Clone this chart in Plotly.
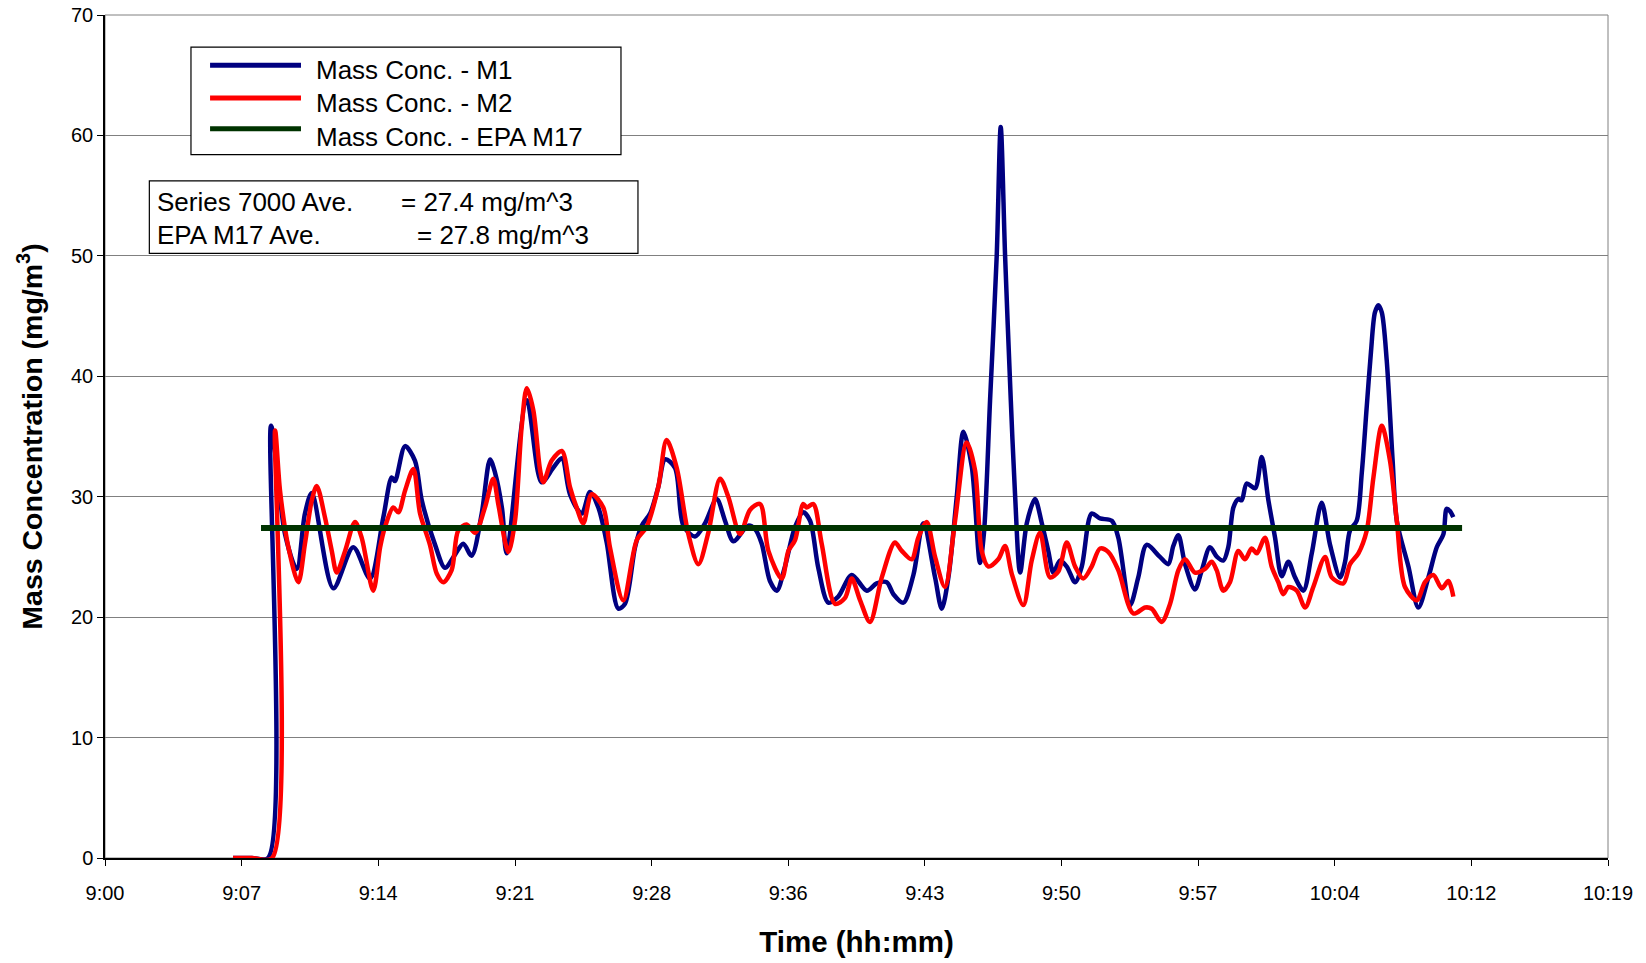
import plotly.graph_objects as go

# Time axis: minutes after 9:00
tick_vals = [0, 7.18, 14.36, 21.55, 28.73, 35.91, 43.09, 50.27, 57.45, 64.64, 71.82, 79]
tick_text = ["9:00", "9:07", "9:14", "9:21", "9:28", "9:36", "9:43", "9:50", "9:57", "10:04", "10:12", "10:19"]

t_m1 = [6.73, 7.73, 8.57, 8.73, 9.46, 10.08, 10.51, 10.87, 12.00, 13.05, 13.93, 14.63, 15.07, 15.24,
        15.77, 16.29, 16.65, 17.35, 17.87, 18.40, 18.83, 19.27, 19.80, 20.24, 20.50, 20.87, 21.11,
        22.17, 22.95, 23.56, 24.01, 24.44, 25.06, 25.49, 25.93, 26.37, 26.98, 27.33, 27.86, 28.21,
        28.65, 29.08, 29.44, 29.96, 30.40, 31.01, 31.54, 32.15, 32.59, 33.03, 33.81, 34.17, 34.52,
        34.95, 35.31, 35.74, 36.27, 36.70, 37.06, 37.49, 38.02, 38.54, 39.25, 40.04, 40.56, 41.09,
        41.44, 41.96, 42.49, 43.01, 43.63, 43.98, 44.33, 44.77, 45.12, 45.56, 45.99, 46.20, 46.52,
        46.87, 47.08, 47.31, 47.61, 47.83, 48.10, 48.45, 48.88, 49.24, 49.58, 49.85, 50.20, 50.55,
        50.99, 51.34, 51.86, 52.30, 52.92, 53.26, 53.88, 54.31, 54.75, 55.45, 55.89, 56.15, 56.42,
        56.77, 57.29, 57.65, 58.08, 58.45, 58.78, 59.04, 59.31, 59.57, 59.75, 60.01, 60.45, 60.80,
        61.15, 61.50, 61.85, 62.20, 62.55, 62.99, 63.43, 63.95, 64.39, 64.92, 65.18, 65.44, 65.79,
        66.06, 66.32, 66.54, 66.75, 66.93, 67.11, 67.37, 67.68, 67.90, 68.51, 69.03, 69.56, 70.00,
        70.35, 70.52, 70.70, 70.87]
m1 = [0, 0, 0, 35.9, 26.9, 24.0, 28.6, 30.3, 22.4, 25.8, 23.2, 28.3, 31.6, 31.3,
      34.2, 33.0, 29.7, 26.0, 24.1, 25.2, 26.1, 25.1, 28.6, 33.1, 32.0, 29.0, 25.3,
      38.0, 31.2, 32.4, 33.2, 30.2, 28.6, 30.4, 29.1, 26.2, 20.7, 21.1, 25.8, 27.6,
      28.6, 30.8, 33.1, 32.4, 27.6, 26.7, 27.8, 29.8, 28.0, 26.3, 27.6, 27.3, 26.1,
      23.0, 22.2, 24.2, 27.5, 28.7, 28.0, 24.1, 21.2, 21.7, 23.5, 22.2, 22.8, 22.9,
      21.9, 21.2, 23.5, 27.8, 23.3, 20.7, 23.3, 30.0, 35.4, 32.5, 24.5, 27.0, 38.0,
      50.0, 60.7, 50.0, 38.0, 30.3, 23.7, 27.8, 29.8, 27.8, 25.5, 23.7, 24.7, 24.2,
      22.9, 24.2, 28.6, 28.2, 28.0, 26.6, 21.0, 23.3, 26.0, 25.0, 24.4, 25.9, 26.8,
      24.4, 22.3, 23.9, 25.8, 25.0, 24.7, 25.8, 29.1, 29.8, 29.7, 31.1, 30.7, 33.3,
      29.7, 26.6, 23.4, 24.6, 23.3, 22.2, 25.3, 29.5, 26.0, 23.3, 24.6, 27.2, 28.0,
      32.0, 37.5, 42.0, 45.3, 45.9, 45.3, 41.3, 33.0, 28.0, 24.2, 20.8, 23.3, 25.8,
      26.9, 29.0, 28.8, 28.3]

t_m2 = [6.73, 7.73, 8.78, 8.94, 9.20, 9.64, 10.16, 10.51, 10.87, 11.13, 11.56, 11.92, 12.18, 12.62,
        13.14, 13.49, 14.10, 14.46, 14.72, 15.15, 15.42, 15.77, 16.21, 16.56, 17.08, 17.44, 17.78,
        18.22, 18.57, 19.01, 19.45, 19.97, 20.41, 20.67, 21.20, 21.55, 21.90, 22.17, 22.51, 22.87,
        23.04, 23.48, 24.01, 24.44, 24.79, 25.14, 25.58, 26.19, 26.54, 27.24, 27.95, 28.47, 29.08,
        29.52, 30.05, 30.66, 31.19, 31.71, 32.33, 32.76, 33.38, 33.90, 34.43, 34.87, 35.57, 35.92,
        36.27, 36.70, 36.88, 37.23, 37.67, 38.37, 38.90, 39.25, 39.69, 40.21, 40.83, 41.52, 41.88,
        42.40, 42.75, 43.19, 43.63, 44.15, 44.68, 45.29, 45.73, 46.08, 46.43, 46.95, 47.31, 47.66,
        48.27, 48.71, 49.15, 49.67, 50.11, 50.55, 50.99, 51.42, 51.86, 52.30, 52.74, 53.26, 54.05,
        54.67, 55.02, 55.54, 55.98, 56.42, 56.77, 57.29, 57.82, 58.17, 58.43, 58.78, 59.13, 59.57,
        59.92, 60.27, 60.54, 60.97, 61.32, 61.67, 61.93, 62.20, 62.64, 63.08, 63.51, 64.13, 64.48,
        65.09, 65.44, 65.88, 66.32, 66.67, 67.11, 67.54, 67.90, 68.33, 68.95, 69.38, 69.82, 70.26,
        70.61, 70.87]
m2 = [0, 0, 0, 35.5, 30.5, 25.8, 22.9, 26.1, 29.7, 30.9, 28.3, 25.5, 23.7, 25.5,
      27.9, 26.6, 22.2, 25.8, 27.5, 29.1, 28.7, 30.5, 32.3, 28.6, 26.0, 23.6, 22.9,
      23.9, 27.2, 27.7, 27.0, 29.1, 31.5, 29.4, 25.4, 28.0, 35.8, 39.0, 37.2, 32.2,
      31.2, 33.0, 33.8, 30.8, 29.1, 27.8, 30.2, 29.1, 25.8, 21.4, 26.4, 27.5, 30.8,
      34.7, 32.4, 26.9, 24.4, 27.0, 31.5, 30.0, 26.9, 28.9, 29.4, 25.5, 23.2, 25.5,
      26.4, 29.4, 29.1, 29.4, 26.1, 21.1, 21.6, 23.2, 21.4, 19.6, 23.3, 26.2, 25.5,
      24.8, 26.6, 27.9, 25.0, 22.5, 28.0, 34.5, 32.2, 25.5, 24.2, 24.8, 25.9, 23.6,
      21.0, 24.7, 27.0, 23.3, 23.8, 26.2, 24.2, 23.2, 24.2, 25.7, 25.4, 23.9, 20.3,
      20.8, 20.7, 19.6, 21.1, 23.9, 24.8, 23.7, 24.0, 24.6, 23.9, 22.2, 22.9, 25.5,
      24.8, 25.7, 25.3, 26.6, 24.2, 22.9, 21.9, 22.5, 22.2, 20.8, 22.5, 25.0, 23.3,
      22.8, 24.4, 25.3, 27.2, 31.6, 35.9, 33.0, 28.0, 22.5, 21.4, 22.9, 23.5, 22.4,
      23.0, 21.7]

t_epa = [8.2, 71.33]
epa = [27.4, 27.4]

assert len(t_m1) == len(m1)
assert len(t_m2) == len(m2)

BLUE = "#000080"
RED = "#FF0000"
GREEN = "#003300"
FONT = "Liberation Sans, Arial, sans-serif"

fig = go.Figure()
fig.add_trace(go.Scatter(x=t_m1, y=m1, mode="lines", name="Mass Conc. - M1",
                         line=dict(color=BLUE, width=4.5, shape="spline", smoothing=0.85)))
fig.add_trace(go.Scatter(x=t_m2, y=m2, mode="lines", name="Mass Conc. - M2",
                         line=dict(color=RED, width=4.5, shape="spline", smoothing=0.85)))
fig.add_trace(go.Scatter(x=t_epa, y=epa, mode="lines", name="Mass Conc. - EPA M17",
                         line=dict(color=GREEN, width=6)))

# custom legend (long line samples as in the original)
shapes = [
    dict(type="rect", xref="paper", yref="paper", x0=0, x1=1, y0=0, y1=1,
         line=dict(color="#808080", width=1), layer="below"),
    dict(type="rect", xref="paper", yref="paper", x0=0.0572, x1=0.3433, y0=0.8344, y1=0.9620,
         line=dict(color="black", width=1.2), fillcolor="white", layer="above"),
    dict(type="rect", xref="paper", yref="paper", x0=0.0295, x1=0.3546, y0=0.7173, y1=0.8033,
         line=dict(color="black", width=1.2), fillcolor="white", layer="above"),
]
legend_names = ["Mass Conc. - M1", "Mass Conc. - M2", "Mass Conc. - EPA M17"]
legend_colors = [BLUE, RED, GREEN]
legend_line_y = [0.9403, 0.9015, 0.8652]
legend_text_y = [0.9344, 0.8953, 0.8549]
annotations = []
for name, col, ly, ty in zip(legend_names, legend_colors, legend_line_y, legend_text_y):
    shapes.append(dict(type="line", xref="paper", yref="paper", x0=0.0699, x1=0.1304, y0=ly, y1=ly,
                       line=dict(color=col, width=5), layer="above"))
    annotations.append(dict(xref="paper", yref="paper", x=0.1391, y=ty, text=name, showarrow=False,
                            xanchor="left", yanchor="middle", font=dict(size=26, color="black", family=FONT)))

stat_labels = ["Series 7000 Ave.", "EPA M17 Ave."]
stat_values = ["= 27.4 mg/m^3", "= 27.8 mg/m^3"]
stat_y = [0.7782, 0.7387]
stat_val_x = [0.1956, 0.2063]
for lab, val, sy, vx in zip(stat_labels, stat_values, stat_y, stat_val_x):
    annotations.append(dict(xref="paper", yref="paper", x=0.0333, y=sy, text=lab, showarrow=False,
                            xanchor="left", yanchor="middle", font=dict(size=26, color="black", family=FONT)))
    annotations.append(dict(xref="paper", yref="paper", x=vx, y=sy, text=val, showarrow=False,
                            xanchor="left", yanchor="middle", font=dict(size=26, color="black", family=FONT)))

fig.update_layout(
    width=1646, height=963,
    margin=dict(l=105, r=38, t=15, b=105),
    paper_bgcolor="white", plot_bgcolor="white",
    showlegend=False,
    font=dict(family=FONT, color="black"),
    shapes=shapes, annotations=annotations,
    xaxis=dict(range=[0, 79], tickvals=tick_vals, ticktext=tick_text, automargin=False,
               showgrid=False, zeroline=False, showline=True, linecolor="black", linewidth=1.5,
               ticks="outside", ticklen=6, tickcolor="black", tickfont=dict(size=20),
               ticklabelstandoff=10,
               title=dict(text="<b>Time (hh:mm)</b>", font=dict(size=29.5), standoff=29)),
    yaxis=dict(range=[0, 70], tickvals=[0, 10, 20, 30, 40, 50, 60, 70], automargin=False,
               showgrid=True, gridcolor="#808080", gridwidth=1, zeroline=False,
               showline=True, linecolor="black", linewidth=1.5,
               ticks="outside", ticklen=6, tickcolor="black", tickfont=dict(size=20),
               ticklabeloverflow="allow",
               title=dict(text="<b>Mass Concentration (mg/m<sup>3</sup>)</b>", font=dict(size=28.5), standoff=20)),
)

# remove the default page margin so the 1646x963 figure fills the window exactly
fig.write_html("out.html", config={"displayModeBar": False},
               post_script="document.body.style.margin='0';")
